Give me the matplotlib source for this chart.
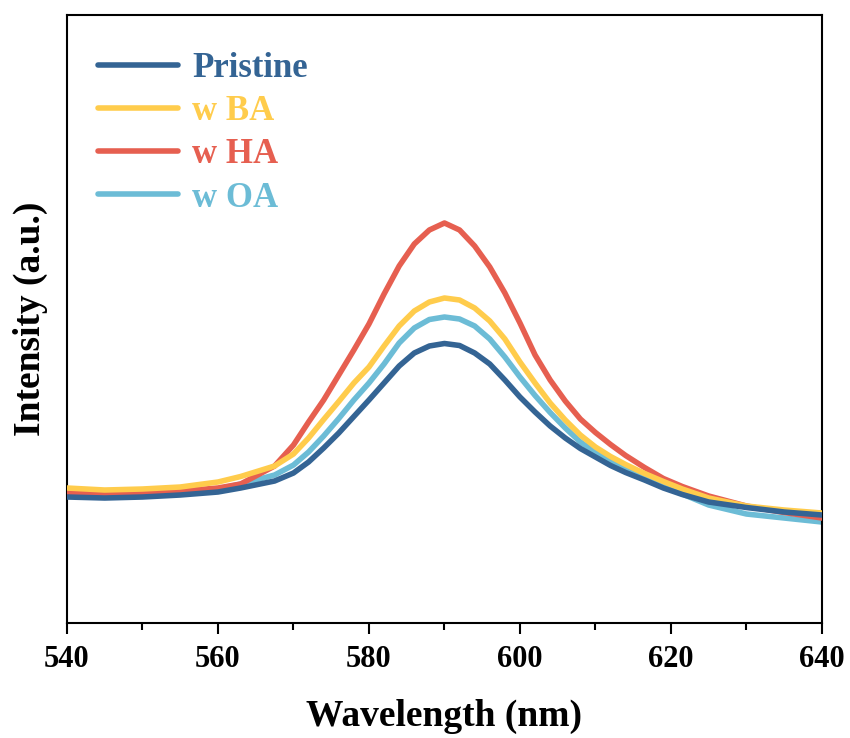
import matplotlib.pyplot as plt

plt.rcParams['font.family'] = 'Liberation Serif'
plt.rcParams['font.weight'] = 'bold'

wavelength = [540, 545, 550, 555, 560, 563, 567.5, 570, 572, 574, 576, 578, 580, 582,
              584, 586, 588, 590, 592, 594, 596, 598, 600, 602, 604, 606, 608, 610,
              612, 614, 616.5, 619, 621.5, 625, 630, 635, 640]

pristine = [126, 125, 126, 128, 131, 135, 142, 150, 161, 175, 190, 206.5, 223, 240,
            257, 270, 277, 279.5, 277.5, 270, 259, 243, 226, 211, 197, 185, 174.5, 166,
            157.5, 150.5, 143, 135, 128.5, 121, 115.5, 111, 108]
w_ba = [135, 133, 134, 136, 141, 146.5, 157, 169, 185, 203.5, 221.5, 240, 256, 277,
        297, 312, 321, 325, 323, 315, 302, 284, 261, 240, 220, 203, 188, 176,
        166.5, 158.5, 149.5, 141.5, 134, 125, 117, 113, 110]
w_ha = [130, 129, 130, 132, 135, 139, 157, 178, 201, 223, 248, 273, 299, 329,
        357, 379, 393, 400, 393, 377, 356, 330, 300, 268, 243, 222, 204, 190.5,
        178.5, 167.5, 155.5, 144.5, 136.5, 127, 117, 110.5, 105]
w_oa = [128, 127, 128, 130, 134, 139, 148, 158, 171, 187, 204.5, 223, 240, 259,
        280, 295, 303.5, 306, 304, 297, 284, 266, 246, 227.5, 210.5, 195, 181, 171,
        162, 153.5, 144.5, 137, 129, 118, 109, 105, 101]

labels = ['Pristine', 'w BA', 'w HA', 'w OA']
colors = ['#346494', '#FFCC4C', '#E65F50', '#6CBCD6']
# pristine sits on top, then BA, HA, OA underneath
zorders = [5, 4, 3, 2]

fig = plt.figure(figsize=(8.5, 7.38), dpi=100)
ax = fig.add_axes([0.0788, 0.1558, 0.8882, 0.8239])

for y, lab, c, z in zip([pristine, w_ba, w_ha, w_oa], labels, colors, zorders):
    ax.plot(wavelength, y, color=c, lw=4, label=lab, zorder=z,
            solid_capstyle='round', solid_joinstyle='round')

ax.set_xlim(540, 640)
ax.set_ylim(0, 608)
ax.set_xticks(range(540, 641, 20))
ax.set_xticks(range(550, 640, 20), minor=True)
ax.set_yticks([])
ax.tick_params(axis='x', which='major', length=8, width=1.5, labelsize=22, pad=8)
ax.tick_params(axis='x', which='minor', length=5, width=1.5)
for s in ax.spines.values():
    s.set_linewidth(1.5)

ax.set_xlabel('Wavelength (nm)', fontsize=27, fontweight='bold', labelpad=18)
ax.set_ylabel('Intensity (a.u.)', fontsize=27, fontweight='bold', labelpad=14)

leg = ax.legend(loc='upper left', frameon=False, fontsize=25, handlelength=2.3,
                handletextpad=0.4, labelspacing=0.29, labelcolor='linecolor',
                bbox_to_anchor=(0.0, 0.99))

fig.savefig('out.png', dpi=100)
